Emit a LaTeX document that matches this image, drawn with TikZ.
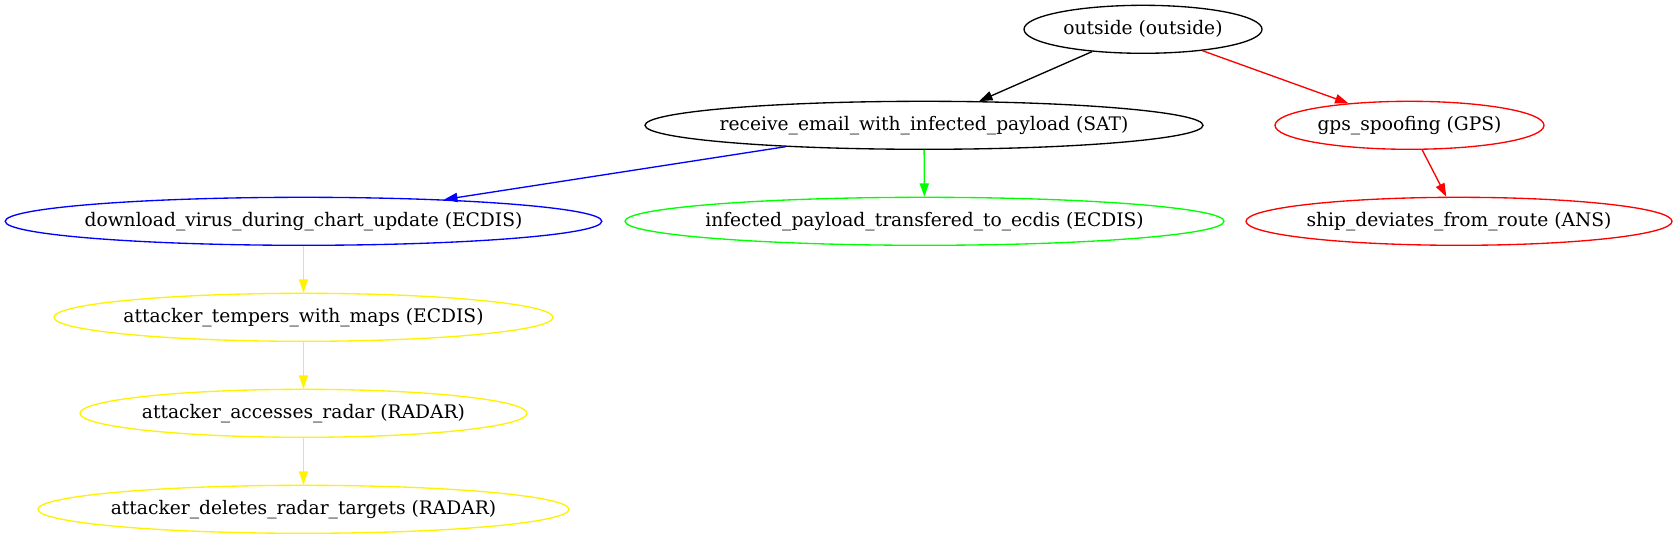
\documentclass[tikz,border=0pt]{standalone}
\usepackage{fontspec}
\setmainfont{DejaVu Serif}
\usetikzlibrary{shapes.geometric,arrows.meta}
\begin{document}
\begin{tikzpicture}[x=0.75pt,y=-0.75pt,
  gnode/.style={ellipse, draw, line width=1pt, inner sep=0pt, minimum height=36pt, font=\fontsize{14}{16}\selectfont, text=black},
  gedge/.style={line width=1pt, -{Triangle[length=10pt,width=7pt]}}]
\useasboundingbox (0,0) rectangle (1677,539);
% rank 1
\node[gnode, minimum width=178.5pt] (outside) at (1143,29.3) {\makebox[0pt]{outside (outside)}};
% rank 2
\node[gnode, minimum width=418.5pt] (receive) at (924,125.3) {\makebox[0pt]{receive\_email\_with\_infected\_payload (SAT)}};
\node[gnode, draw=red, minimum width=201.75pt] (gps) at (1409.5,125.3) {\makebox[0pt]{gps\_spoofing (GPS)}};
% rank 3
\node[gnode, draw=blue, minimum width=447.5pt] (download) at (303.5,221.3) {\makebox[0pt]{download\_virus\_during\_chart\_update (ECDIS)}};
\node[gnode, draw=green, minimum width=449.25pt] (infected) at (924.5,221.3) {\makebox[0pt]{infected\_payload\_transfered\_to\_ecdis (ECDIS)}};
\node[gnode, draw=red, minimum width=319.5pt] (ship) at (1459,221.3) {\makebox[0pt]{ship\_deviates\_from\_route (ANS)}};
% ranks 4-6
\node[gnode, draw=yellow, minimum width=374.25pt] (tempers) at (303.5,317.3) {\makebox[0pt]{attacker\_tempers\_with\_maps (ECDIS)}};
\node[gnode, draw=yellow, minimum width=335.25pt] (accesses) at (303.5,413.3) {\makebox[0pt]{attacker\_accesses\_radar (RADAR)}};
\node[gnode, draw=yellow, minimum width=398.25pt] (deletes) at (303.5,509.3) {\makebox[0pt]{attacker\_deletes\_radar\_targets (RADAR)}};
% edges
\draw[gedge] (outside) -- (receive);
\draw[gedge, red] (outside) -- (gps);
\draw[gedge, blue] (receive) -- (download);
\draw[gedge, green] (receive) -- (infected);
\draw[gedge, red] (gps) -- (ship);
\draw[gedge, yellow] (download) -- (tempers);
\draw[gedge, yellow] (tempers) -- (accesses);
\draw[gedge, yellow] (accesses) -- (deletes);
\end{tikzpicture}
\end{document}
